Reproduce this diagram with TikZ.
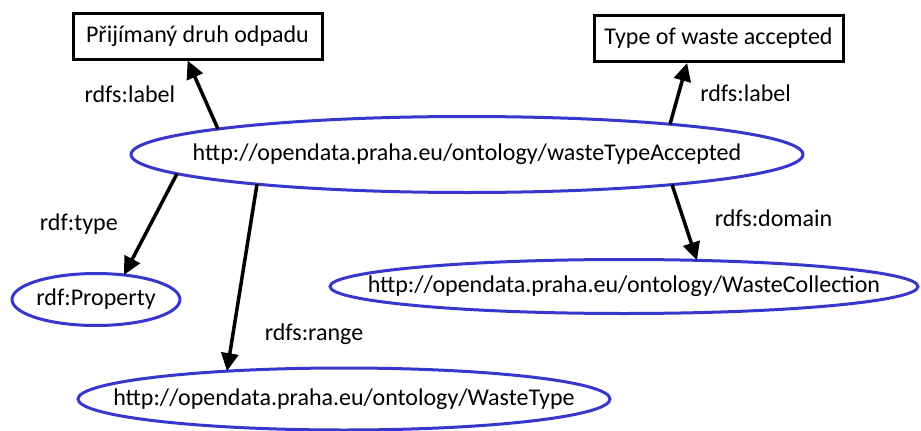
\documentclass[tikz,border=0pt]{standalone}
\usepackage{fontspec}
\setmainfont{Carlito}
\usetikzlibrary{shapes.geometric,arrows.meta,calc}

\definecolor{rdfblue}{RGB}{55,55,205}

\begin{document}
\begin{tikzpicture}[
  x=1pt,y=-1pt,
  font=\fontsize{24}{28}\selectfont,
  lit/.style={draw,rectangle,line width=3pt,minimum width=249pt,minimum height=46pt,inner sep=0pt,fill=white},
  res/.style={draw=rdfblue,ellipse,line width=3pt,inner sep=0pt,fill=white},
  rel/.style={-{Triangle[length=18pt,width=17pt]},line width=3.5pt},
  lbl/.style={inner sep=0pt}
]
\useasboundingbox (0,0) rectangle (921,431);

\node[lit] (lblcs) at (197.5,36) {Přijímaný druh odpadu};
\node[lit] (lblen) at (718.5,38.5) {Type of waste accepted};
\node[res,minimum width=672pt,minimum height=76pt] (main) at (467,154.5) {\makebox[0pt]{http://opendata.praha.eu/ontology/wasteTypeAccepted}};
\node[res,minimum width=168pt,minimum height=52pt] (prop) at (96,299.5) {\makebox[0pt]{rdf:Property}};
\node[res,minimum width=588pt,minimum height=54pt] (wcol) at (624,286.5) {\makebox[0pt]{http://opendata.praha.eu/ontology/WasteCollection}};
\node[res,minimum width=532pt,minimum height=62pt] (wtype) at (344,399) {\makebox[0pt]{http://opendata.praha.eu/ontology/WasteType}};

% start and end points sit on the ellipse outlines
\draw[rel] ($(main)+(-249,-25.5)$) -- node[lbl,pos=.5,left=26pt] {rdfs:label} (lblcs.248);
\draw[rel] ($(main)+(203,-30.3)$) -- node[lbl,pos=.5,right=20pt] {rdfs:label} (lblen.218);
\draw[rel] ($(main)+(-290,19.2)$) -- node[lbl,pos=.5,left=31pt] {rdf:type} ($(prop)+(28,-24.5)$);
\draw[rel] ($(main)+(-210,29.7)$) -- node[lbl,pos=.8,right=30pt] {rdfs:range} ($(wtype)+(-117,-27.8)$);
\draw[rel] ($(main)+(205,30.1)$) -- node[lbl,pos=.44,right=30pt] {rdfs:domain} ($(wcol)+(73,-26.2)$);
\end{tikzpicture}
\end{document}
